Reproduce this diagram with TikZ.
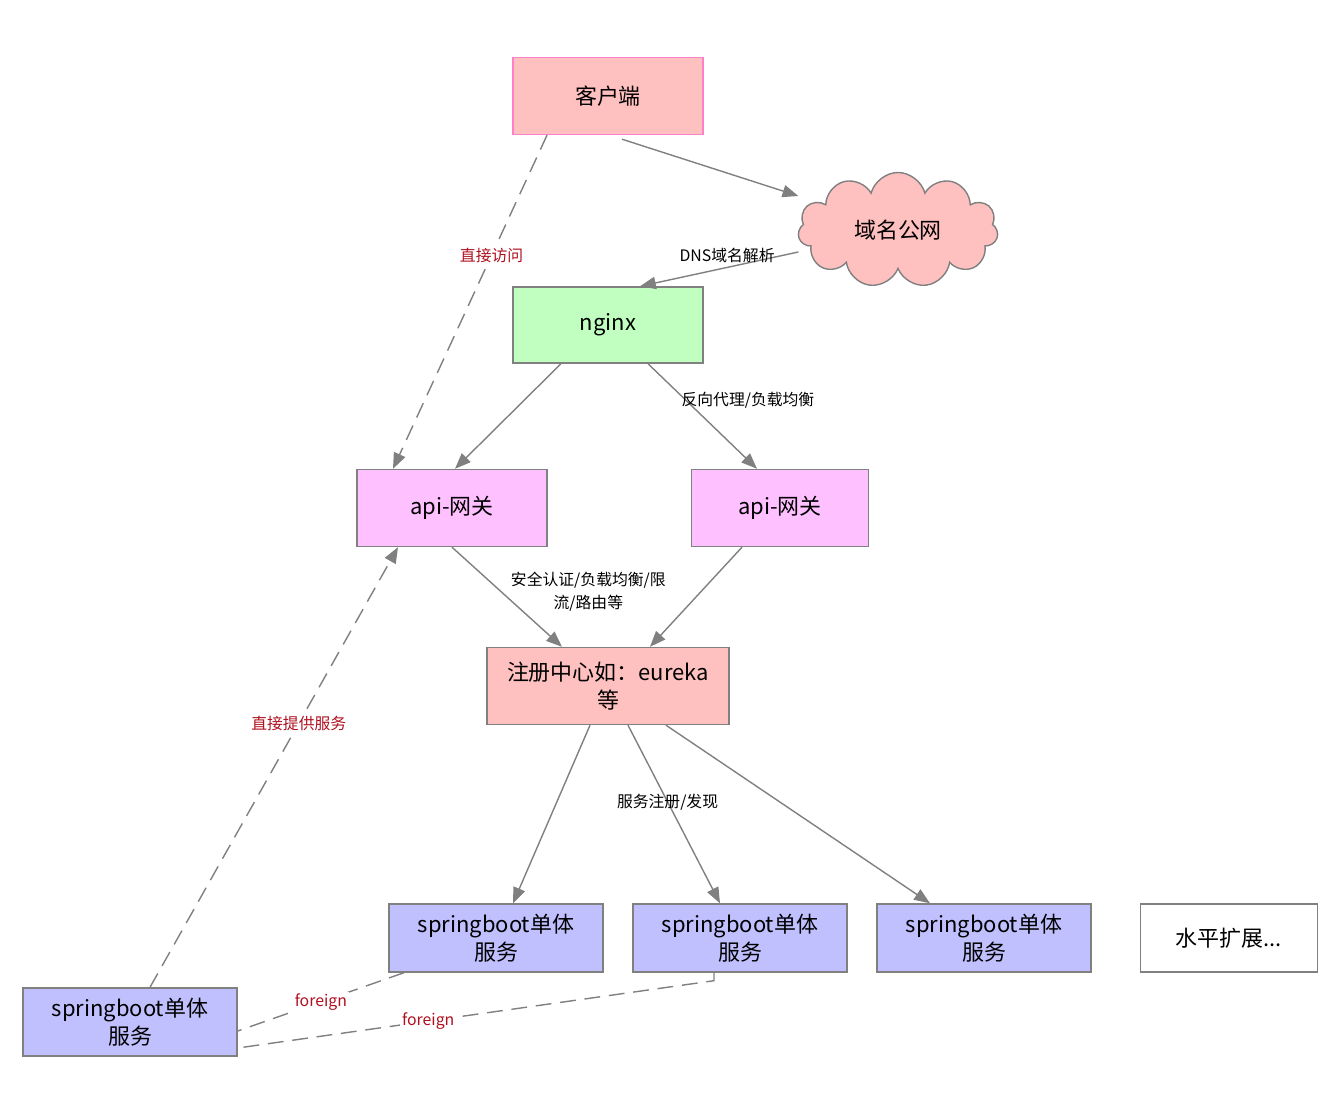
\documentclass[tikz,border=0pt]{standalone}
\usepackage{fontspec}
\setmainfont{Noto Sans CJK SC}
\usetikzlibrary{shapes.symbols,arrows.meta}
\definecolor{pk}{HTML}{FFC0C0}
\definecolor{gr}{HTML}{C0FFC0}
\definecolor{mg}{HTML}{FFC0FF}
\definecolor{bl}{HTML}{C0C0FF}
\definecolor{ln}{HTML}{808080}
\definecolor{rd}{HTML}{B01020}
\begin{document}
\begin{tikzpicture}[x=0.02cm,y=-0.02cm,
 box/.style={draw=ln,thick,minimum width=#1*0.02cm,inner sep=2pt,align=center,font=\fontsize{12.5}{16}\selectfont},
 box/.default=190,
 ar/.style={draw=ln,thick,-{Triangle[length=9pt,width=7pt]}},
 da/.style={ar,dash pattern=on 9pt off 5pt},
 dl/.style={draw=ln,thick,dash pattern=on 9pt off 5pt},
 lb/.style={fill=white,inner sep=1pt,font=\fontsize{9}{13}\selectfont,align=center},
 rl/.style={lb,text=rd}]
\useasboundingbox (0,0) rectangle (1340,1118);
\node[box,fill=pk,draw={rgb,255:red,255;green,128;blue,200},minimum height=77*0.02cm] (c) at (608,96) {客户端};
\node[cloud,cloud puffs=11,aspect=1.8,draw=ln,thick,fill=pk,minimum width=200*0.02cm,minimum height=115*0.02cm,font=\fontsize{12.5}{16}\selectfont] (w) at (898,230) {域名公网};
\node[box,fill=gr,minimum height=76*0.02cm] (n) at (608,325) {nginx};
\node[box,fill=mg,minimum height=77*0.02cm] (a1) at (452,508) {api-网关};
\node[box=177,fill=mg,minimum height=77*0.02cm] (a2) at (780,508) {api-网关};
\node[box=242,fill=pk,minimum height=77*0.02cm] (r) at (608,686) {注册中心如：eureka\\等};
\node[box=214,fill=bl,minimum height=68*0.02cm] (s1) at (496,938) {springboot单体\\服务};
\node[box=214,fill=bl,minimum height=68*0.02cm] (s2) at (740,938) {springboot单体\\服务};
\node[box=214,fill=bl,minimum height=68*0.02cm] (s3) at (984,938) {springboot单体\\服务};
\node[box=177,fill=white,minimum height=68*0.02cm] (h) at (1229,938) {水平扩展...};
\node[box=214,fill=bl,minimum height=68*0.02cm] (s0) at (130,1022) {springboot单体\\服务};
\draw[ar] (c.south)++(14,4) coordinate (c1) -- (w.west|-0,196) coordinate (w1);
\draw[ar] (w.west|-0,252) -- node[lb,pos=0.45,above=1pt,fill=none]{DNS域名解析} ([xshift=32*0.02cm]n.north);
\draw[ar] ([xshift=-47*0.02cm]n.south) -- ([xshift=3*0.02cm]a1.north);
\draw[ar] ([xshift=40*0.02cm]n.south) -- node[lb,pos=0.35,fill=none,right=-4pt]{反向代理/负载均衡} ([xshift=-23*0.02cm]a2.north);
\draw[da] ([xshift=-61*0.02cm]c.south) -- node[rl,pos=0.36]{直接访问} ([xshift=-59*0.02cm]a1.north);
\draw[ar] (a1.south) -- node[lb,pos=0.45,right=4pt,fill=none]{安全认证/负载均衡/限\\流/路由等} ([xshift=-46*0.02cm]r.north);
\draw[ar] ([xshift=-38*0.02cm]a2.south) -- ([xshift=42*0.02cm]r.north);
\draw[ar] ([xshift=-18*0.02cm]r.south) -- ([xshift=17*0.02cm]s1.north);
\draw[ar] ([xshift=20*0.02cm]r.south) -- node[lb,pos=0.43,fill=none]{服务注册/发现} ([xshift=-20*0.02cm]s2.north);
\draw[ar] ([xshift=58*0.02cm]r.south) -- ([xshift=-54*0.02cm]s3.north);
\draw[da] ([xshift=20*0.02cm]s0.north) -- node[rl,pos=0.6]{直接提供服务} ([xshift=-54*0.02cm]a1.south);
\draw[dl] ([xshift=-92*0.02cm]s1.south) -- node[rl,pos=0.5]{foreign} ([yshift=-9*0.02cm]s0.east);
\draw[dl] ([xshift=-26*0.02cm]s2.south) -- ++(0,8) -- node[rl,pos=0.6]{foreign} ([yshift=-26*0.02cm]s0.east);
\end{tikzpicture}
\end{document}
